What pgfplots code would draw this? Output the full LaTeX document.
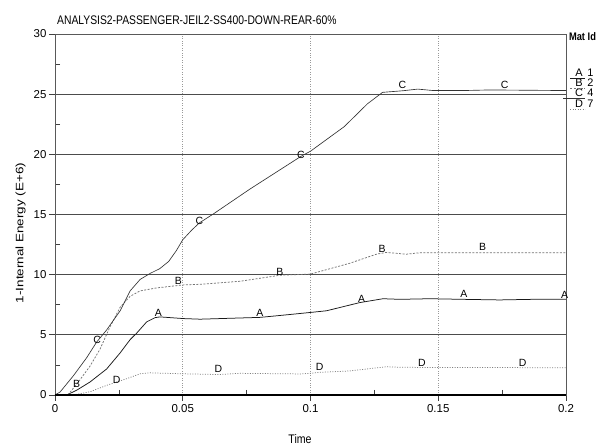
\documentclass[border=0pt]{standalone}
\usepackage{pgfplots}
\pgfplotsset{compat=1.18}
\usepackage{fontspec}
\setmainfont{Liberation Sans}
\tikzset{lab/.style={font=\fontsize{10.5}{11}\selectfont, inner sep=0.5bp, text=black}}
\begin{document}
\begin{tikzpicture}[x=1bp,y=1bp]
\begin{axis}[
  at={(0,0)}, anchor=south west,
  width=511bp, height=361bp, scale only axis,
  xmin=0, xmax=0.2, ymin=0, ymax=30,
  xtick={0,0.05,0.1,0.15,0.2},
  minor xtick={0.025,0.075,0.125,0.175},
  ytick={0,5,10,15,20,25,30},
  minor ytick={2.5,7.5,12.5,17.5,22.5,27.5},
  xtick pos=bottom, ytick pos=left,
  tick align=outside,
  major tick length=6bp, minor tick length=-5bp,
  every tick/.style={black!75, line width=0.7bp},
  /pgf/number format/assume math mode=true,
  ticklabel style={font=\fontsize{11.5}{12}\selectfont},
  xticklabel style={/pgf/number format/fixed, /pgf/number format/precision=3},
  yticklabel style={xshift=1bp},
  axis line style={draw=black!65, line width=0.6bp},
  xmajorgrids, ymajorgrids,
  x grid style={gray!80, dotted, line width=0.8bp},
  y grid style={black!70, line width=0.8bp},
  clip=false,
]
% A (Mat 1)
\addplot[draw=black!90, line width=0.75bp, mark=none] coordinates {
(0.0046,0) (0.0085,0.4) (0.0137,1.08) (0.0202,2.16) (0.0255,3.5) (0.0294,4.6)
(0.032,5.15) (0.0359,6.08) (0.0392,6.43) (0.0411,6.49) (0.0503,6.35) (0.0568,6.3)
(0.0724,6.4) (0.0802,6.45) (0.0867,6.58) (0.1,6.86) (0.1063,7.0) (0.1193,7.68)
(0.1284,8.0) (0.135,7.95) (0.1467,8.0) (0.1596,7.95) (0.174,7.9) (0.187,7.95) (0.2,7.95)};
% B (Mat 2)
\addplot[draw=black!55, line width=0.75bp, dash pattern=on 2bp off 1.5bp, mark=none] coordinates {
(0.005,0) (0.0085,0.9) (0.0137,2.4) (0.0176,3.8) (0.0215,5.65) (0.0255,7.3) (0.0294,8.2)
(0.0333,8.65) (0.0398,8.9) (0.0503,9.15) (0.0568,9.2) (0.0724,9.45) (0.088,9.95)
(0.1,10.05) (0.1154,10.95) (0.1258,11.7) (0.1297,11.85) (0.1375,11.7) (0.1427,11.82)
(0.16,11.83) (0.2,11.83)};
% C (Mat 4)
\addplot[draw=black!80, line width=0.65bp, mark=none] coordinates {
(0,0) (0.002,0.25) (0.0072,1.6) (0.0124,3.1) (0.0163,4.4) (0.0202,5.4) (0.0255,7.0)
(0.0294,8.65) (0.0333,9.6) (0.0372,10.1) (0.041,10.5) (0.0445,11.1) (0.0475,12.0) (0.05,12.9)
(0.0535,13.7) (0.0565,14.3) (0.062,15.05) (0.0762,17.1) (0.0964,19.85) (0.1,20.26) (0.1132,22.3)
(0.1223,24.2) (0.1282,25.15) (0.136,25.28) (0.142,25.42) (0.148,25.3) (0.16,25.3)
(0.17,25.35) (0.2,25.3)};
% D (Mat 7)
\addplot[draw=black!50, line width=0.75bp, dash pattern=on 1bp off 1.5bp, mark=none] coordinates {
(0.0072,0) (0.0137,0.27) (0.0202,0.8) (0.0241,1.08) (0.028,1.35) (0.0333,1.76)
(0.0372,1.84) (0.0503,1.76) (0.064,1.7) (0.0724,1.8) (0.0958,1.75) (0.1,1.8)
(0.1036,1.88) (0.1154,2.0) (0.1297,2.35) (0.135,2.3) (0.16,2.28) (0.2,2.27)};
% bottom axis line
\draw[black, line width=1.3bp] (rel axis cs:0,0) -- (rel axis cs:1,0);
% curve letters
\node[lab] at (axis cs:0.0405,6.85) {A};
\node[lab] at (axis cs:0.0802,6.8) {A};
\node[lab] at (axis cs:0.12,8.0) {A};
\node[lab] at (axis cs:0.16,8.4) {A};
\node[lab] at (axis cs:0.1995,8.3) {A};
\node[lab] at (axis cs:0.0085,0.95) {B};
\node[lab] at (axis cs:0.0483,9.45) {B};
\node[lab] at (axis cs:0.088,10.25) {B};
\node[lab] at (axis cs:0.128,12.15) {B};
\node[lab] at (axis cs:0.1674,12.3) {B};
\node[lab] at (axis cs:0.0165,4.6) {C};
\node[lab] at (axis cs:0.0565,14.45) {C};
\node[lab] at (axis cs:0.0962,19.95) {C};
\node[lab] at (axis cs:0.136,25.8) {C};
\node[lab] at (axis cs:0.176,25.8) {C};
\node[lab] at (axis cs:0.0241,1.25) {D};
\node[lab] at (axis cs:0.064,2.15) {D};
\node[lab] at (axis cs:0.1036,2.3) {D};
\node[lab] at (axis cs:0.1436,2.7) {D};
\node[lab] at (axis cs:0.183,2.7) {D};
\end{axis}
% title
\node[anchor=west, inner sep=0] at (2,374.5) {\scalebox{0.83}[1]{\fontsize{12.5}{14}\selectfont ANALYSIS2-PASSENGER-JEIL2-SS400-DOWN-REAR-60\%}};
% axis labels
\node[rotate=90, inner sep=0] at (-34.5,162) {\scalebox{1}[0.8]{\fontsize{13.5}{15}\selectfont 1-Internal Energy (E+6)}};
\node[inner sep=0] at (245,-44) {\scalebox{0.85}[1]{\fontsize{12.5}{14}\selectfont Time}};
% legend
\node[inner sep=0] at (527.5,358) {\scalebox{0.85}[1]{\fontsize{11}{12}\selectfont\bfseries Mat Id}};
\begin{scope}[every node/.style={inner sep=0, font=\fontsize{11}{12}\selectfont}]
\node at (524,322.3) {A}; \node at (535.5,322.3) {1};
\node at (524,312) {B}; \node at (535.5,312) {2};
\node at (524,302) {C}; \node at (535.5,302) {4};
\node at (524,291) {D}; \node at (535.5,291) {7};
\end{scope}
\draw[black!90, line width=0.75bp] (515,316.5) -- (530,316.5);
\draw[black!55, line width=0.75bp, dash pattern=on 2bp off 1.5bp] (515,306.2) -- (530,306.2);
\draw[black!80, line width=0.65bp] (508,296.2) -- (530,296.2);
\draw[black!50, line width=0.75bp, dash pattern=on 1bp off 1.5bp] (515,285.2) -- (530,285.2);
\pgfresetboundingbox
\path[use as bounding box] (-55,-51) rectangle (558,395);
\end{tikzpicture}
\end{document}
